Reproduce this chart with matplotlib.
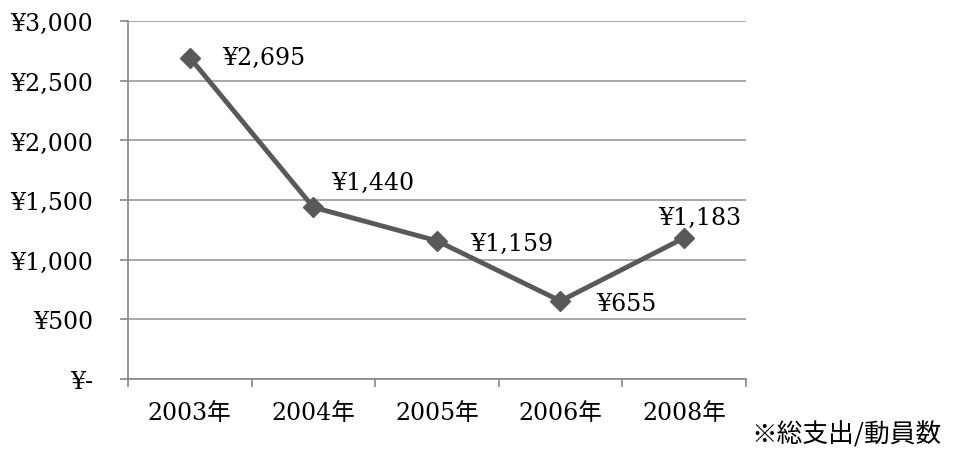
import numpy as np
import matplotlib.pyplot as plt
from matplotlib.ticker import FixedLocator, FuncFormatter

plt.rcParams['font.family'] = ['DejaVu Serif', 'Noto Sans CJK JP']

# Spending per attendee by year
years = ['2003年', '2004年', '2005年', '2006年', '2008年']
values = [2695, 1440, 1159, 655, 1183]
value_labels = ['¥2,695', '¥1,440', '¥1,159', '¥655', '¥1,183']
y_ticks = [0, 500, 1000, 1500, 2000, 2500, 3000]

fig = plt.figure(figsize=(9.55, 4.52), dpi=100)
ax = fig.add_axes([0.134, 0.159, 0.647, 0.792])

x = np.arange(len(years))
ax.plot(x, values, color='#595959', linewidth=3.5, marker='D', markersize=10,
        zorder=3)

# label offsets in points (dx, dy) and alignment per point
offsets = [(23, 0, 'left', 'center'),
           (13, 18, 'left', 'center'),
           (24, -2, 'left', 'center'),
           (26, -2, 'left', 'center'),
           (11, 15, 'center', 'center')]
for xi, v, lab, (dx, dy, ha, va) in zip(x, values, value_labels, offsets):
    ax.annotate(lab, (xi, v), xytext=(dx, dy), textcoords='offset points',
                ha=ha, va=va, fontsize=17)

ax.set_xlim(-0.5, len(years) - 0.5)
ax.set_ylim(0, 3000)
ax.set_xticks(x)
ax.set_xticklabels(years, fontsize=17)
ax.xaxis.set_minor_locator(FixedLocator(np.arange(-0.5, len(years), 1)))
ax.tick_params(axis='x', which='major', length=0, pad=16)
ax.tick_params(axis='x', which='minor', length=6, width=1.2, color='#888888')

ax.yaxis.set_major_locator(FixedLocator(y_ticks))
ax.yaxis.set_major_formatter(FuncFormatter(lambda v, p: '¥-' if v == 0 else f'¥{int(v):,}'))
ax.tick_params(axis='y', length=6, width=1.2, color='#888888', labelsize=17, pad=19)

ax.grid(axis='y', color='#999999', linewidth=1.2)
ax.set_axisbelow(True)
for side in ['top', 'right']:
    ax.spines[side].set_visible(False)
for side in ['left', 'bottom']:
    ax.spines[side].set_color('#888888')
    ax.spines[side].set_linewidth(1.2)

fig.text(0.787, 0.036, '※総支出/動員数', fontsize=18.5, family=['Noto Sans CJK JP'],
         ha='left', va='center')

fig.savefig('out.png', dpi=100)
